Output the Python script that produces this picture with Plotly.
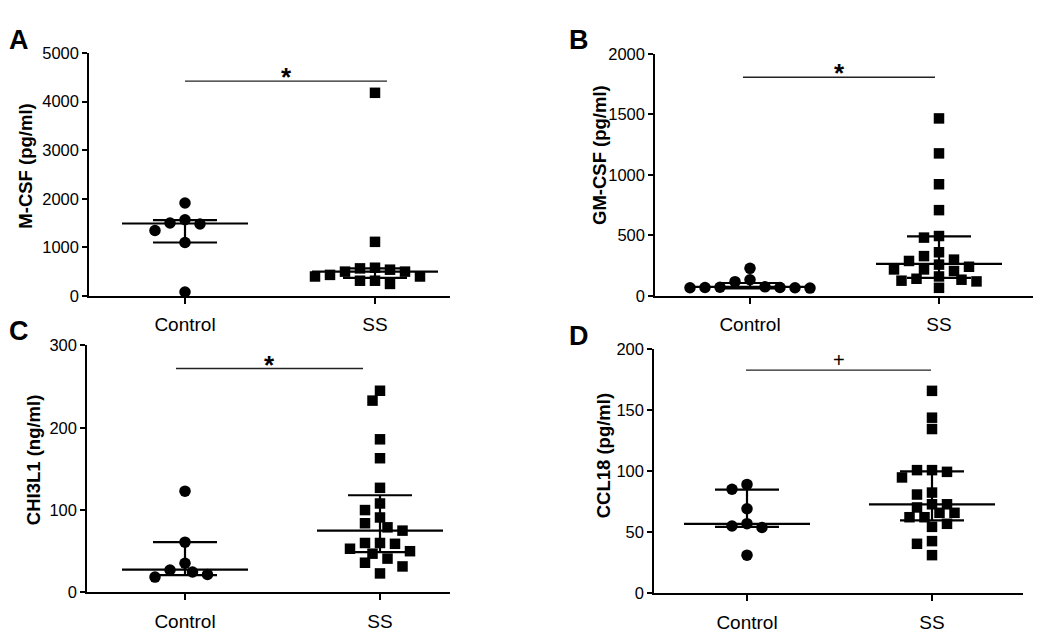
import numpy as np
import plotly.graph_objects as go

W, H = 1050, 640
OFF = 8  # the page body margin shifts the figure by 8px; compensate
categories = ["Control", "SS"]

# ---- Panel A: M-CSF (pg/ml)
mcsf_control = [80, 1100, 1347, 1480, 1500, 1567, 1913]
mcsf_ss = [247, 313, 313, 400, 400, 433, 500, 500, 540, 567, 580, 1113, 4180]
mcsf_median = [1490, 500]
mcsf_q1 = [1100, 370]
mcsf_q3 = [1560, 565]
mcsf_ticks = [0, 1000, 2000, 3000, 4000, 5000]
mcsf_sig_y = 4420

# ---- Panel B: GM-CSF (pg/ml)
gmcsf_control = [65, 68, 68, 70, 70, 72, 75, 118, 134, 228]
gmcsf_ss = [67, 120, 126, 134, 142, 161, 206, 219, 219, 241, 259, 289, 300,
            329, 361, 482, 495, 709, 923, 1178, 1467]
gmcsf_median = [75, 265]
gmcsf_q1 = [63, 150]
gmcsf_q3 = [107, 492]
gmcsf_ticks = [0, 500, 1000, 1500, 2000]
gmcsf_sig_y = 1807

# ---- Panel C: CHI3L1 (ng/ml)
chi3l1_control = [18.5, 21.7, 24.8, 27.2, 35.4, 61, 123]
chi3l1_ss = [23, 31.5, 36, 41, 47, 50, 53, 59, 60, 60, 75, 79, 84, 91, 100,
             108, 127, 163, 186, 233, 245]
chi3l1_median = [27.5, 75]
chi3l1_q1 = [21, 49]
chi3l1_q3 = [61, 118]
chi3l1_ticks = [0, 100, 200, 300]
chi3l1_sig_y = 272

# ---- Panel D: CCL18 (pg/ml)
ccl18_control = [31.3, 54, 55.2, 57.1, 69.3, 85.3, 89.3]
ccl18_ss = [31.3, 40.6, 42.8, 54.5, 57, 62.4, 62.4, 66, 66, 70.4, 73, 73, 81,
            82.6, 95, 99.6, 101, 101, 134.7, 144, 166]
ccl18_median = [57, 73]
ccl18_q1 = [54.4, 59.8]
ccl18_q3 = [85, 100]
ccl18_ticks = [0, 50, 100, 150, 200]
ccl18_sig_y = 183

FONT = "Liberation Sans, Arial, sans-serif"

panels = [
    dict(letter="A", title="M-CSF (pg/ml)", groups=[mcsf_control, mcsf_ss],
         med=mcsf_median, q1=mcsf_q1, q3=mcsf_q3, ticks=mcsf_ticks,
         sig="*", sig_y=mcsf_sig_y,
         box=(89, 450, 45, 295), cx=(185, 375), br=(185, 387),
         letter_xy=(19, 32), title_xy=(26, 162)),
    dict(letter="B", title="GM-CSF (pg/ml)", groups=[gmcsf_control, gmcsf_ss],
         med=gmcsf_median, q1=gmcsf_q1, q3=gmcsf_q3, ticks=gmcsf_ticks,
         sig="*", sig_y=gmcsf_sig_y,
         box=(655, 1033, 46, 295), cx=(750, 939), br=(743, 935),
         letter_xy=(579, 32), title_xy=(599, 150)),
    dict(letter="C", title="CHI3L1 (ng/ml)", groups=[chi3l1_control, chi3l1_ss],
         med=chi3l1_median, q1=chi3l1_q1, q3=chi3l1_q3, ticks=chi3l1_ticks,
         sig="*", sig_y=chi3l1_sig_y,
         box=(87, 450, 346, 600), cx=(185, 380), br=(176, 363),
         letter_xy=(19, 331), title_xy=(33, 464)),
    dict(letter="D", title="CCL18 (pg/ml)", groups=[ccl18_control, ccl18_ss],
         med=ccl18_median, q1=ccl18_q1, q3=ccl18_q3, ticks=ccl18_ticks,
         sig="+", sig_y=ccl18_sig_y,
         box=(654, 1023, 350, 601), cx=(747, 932), br=(746, 931),
         letter_xy=(579, 336), title_xy=(603, 460)),
]


def fx(px):
    return (px - OFF) / W


def fy(py):
    return 1 - (py - OFF) / H


def swarm(vals, ppu_y, ppu_x, d=11.5, step=7.5):
    """Simple beeswarm: returns x offsets (in axis units) avoiding overlap."""
    vals = np.asarray(vals, float)
    order = np.argsort(-vals, kind="stable")
    cands = [0.0]
    for k in range(1, 30):
        cands += [-k * step, k * step]
    placed = []
    offs = np.zeros(len(vals))
    for i in order:
        y = vals[i] * ppu_y
        for c in cands:
            if all((c - px) ** 2 + (y - py) ** 2 >= d * d for px, py in placed):
                break
        placed.append((c, y))
        offs[i] = c / ppu_x
    return offs


fig = go.Figure()
layout = dict(
    width=W, height=H, margin=dict(l=0, r=0, t=0, b=0),
    paper_bgcolor="white", plot_bgcolor="white", showlegend=False,
    font=dict(family=FONT, color="black"),
)
annotations = []
shapes = []

for i, p in enumerate(panels, start=1):
    left, right, top, bottom = p["box"]
    c0, c1 = p["cx"]
    s = c1 - c0  # px per category unit
    xr = [(left - c0) / s, (right - c0) / s]
    ymax = p["ticks"][-1]
    ppu_y = (bottom - top) / ymax
    xname = "x" if i == 1 else f"x{i}"
    yname = "y" if i == 1 else f"y{i}"
    xkey = "xaxis" if i == 1 else f"xaxis{i}"
    ykey = "yaxis" if i == 1 else f"yaxis{i}"

    layout[xkey] = dict(
        domain=[fx(left), fx(right)], anchor=yname, range=xr,
        tickmode="array", tickvals=[0, 1], ticktext=categories,
        ticks="outside", ticklen=6, tickwidth=1.5, tickcolor="black",
        ticklabelstandoff=5,
        showline=True, linecolor="black", linewidth=1.5,
        showgrid=False, zeroline=False,
        tickfont=dict(family=FONT, size=19, color="black"),
    )
    layout[ykey] = dict(
        domain=[fy(bottom), fy(top)], anchor=xname, range=[0, ymax],
        tickmode="array", tickvals=p["ticks"],
        ticks="outside", ticklen=5, tickwidth=1.5, tickcolor="black",
        showline=True, linecolor="black", linewidth=1.5,
        showgrid=False, zeroline=False,
        tickfont=dict(family=FONT, size=16.5, color="black"),
    )

    mhalf = 63 / s
    chalf = 32 / s
    for g, vals in enumerate(p["groups"]):
        offs = swarm(vals, ppu_y, s)
        fig.add_trace(go.Scatter(
            x=g + offs, y=vals, mode="markers", xaxis=xname, yaxis=yname,
            cliponaxis=False,
            marker=dict(symbol="circle" if g == 0 else "square",
                        size=11.5 if g == 0 else 10.5, color="black",
                        line=dict(width=0)),
            hoverinfo="y",
        ))
        # median, quartile caps and IQR bar
        med, q1, q3 = p["med"][g], p["q1"][g], p["q3"][g]
        lx = [g - mhalf, g + mhalf, None, g - chalf, g + chalf, None,
              g - chalf, g + chalf, None, g, g]
        ly = [med, med, None, q1, q1, None, q3, q3, None, q1, q3]
        fig.add_trace(go.Scatter(
            x=lx, y=ly, mode="lines", xaxis=xname, yaxis=yname,
            cliponaxis=False, line=dict(color="black", width=2.2),
            hoverinfo="skip",
        ))

    # significance bracket
    bx0 = (p["br"][0] - c0) / s
    bx1 = (p["br"][1] - c0) / s
    shapes.append(dict(type="line", xref=xname, yref=yname,
                       x0=bx0, x1=bx1, y0=p["sig_y"], y1=p["sig_y"],
                       line=dict(color="#222222", width=1.4)))
    is_star = p["sig"] == "*"
    annotations.append(dict(
        xref=xname, yref=yname, x=(bx0 + bx1) / 2, y=p["sig_y"],
        text=f"<b>{p['sig']}</b>" if is_star else p["sig"],
        showarrow=False, yanchor="middle",
        yshift=4 if is_star else 10,
        font=dict(family=FONT, size=26 if is_star else 20, color="black"),
    ))
    # panel letter
    lx_, ly_ = p["letter_xy"]
    annotations.append(dict(
        xref="paper", yref="paper", x=fx(lx_), y=fy(ly_),
        text=f"<b>{p['letter']}</b>", showarrow=False,
        xanchor="center", yanchor="middle",
        font=dict(family=FONT, size=27, color="black"),
    ))
    # y-axis title
    tx, ty = p["title_xy"]
    annotations.append(dict(
        xref="paper", yref="paper", x=fx(tx), y=fy(ty),
        text=f"<b>{p['title']}</b>", showarrow=False, textangle=-90,
        xanchor="center", yanchor="middle",
        font=dict(family=FONT, size=18.5, color="black"),
    ))

layout["annotations"] = annotations
layout["shapes"] = shapes
fig.update_layout(**layout)
fig.write_html("out.html")
